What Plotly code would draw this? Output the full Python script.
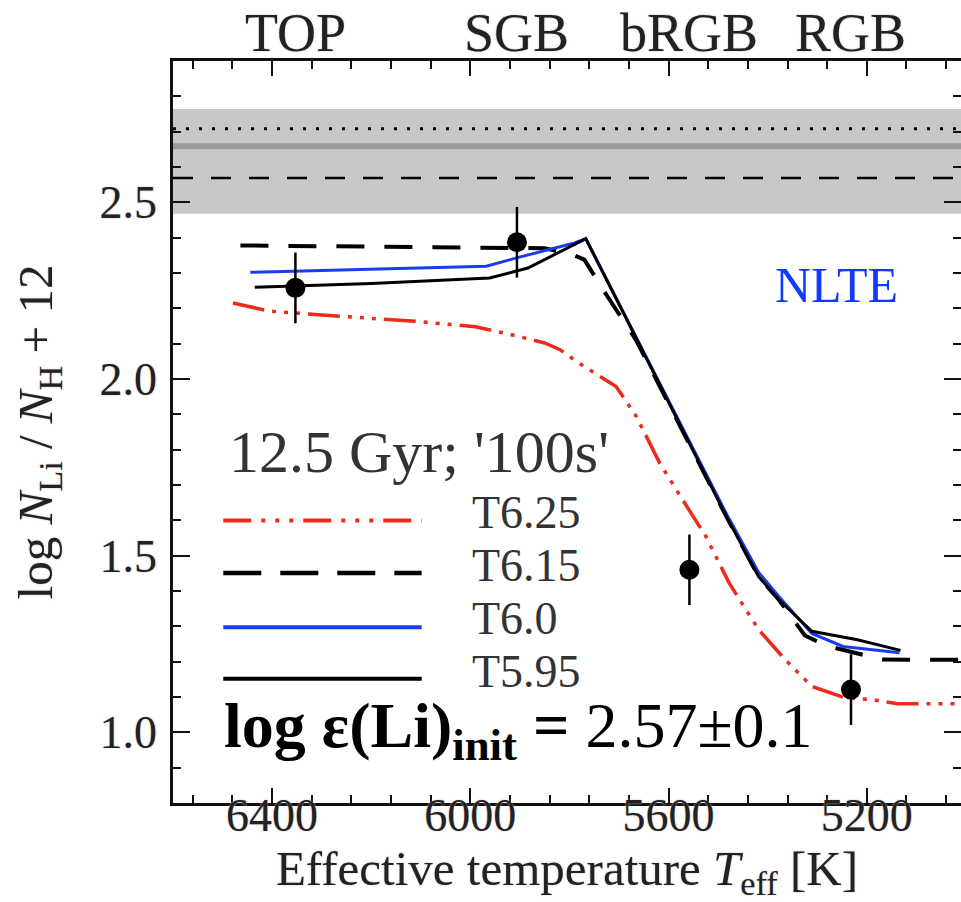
import plotly.graph_objects as go

# ---------------- data ----------------
obs_teff = [6353, 5906, 5558, 5232]
obs_li = [2.258, 2.387, 1.46, 1.121]
obs_err = [0.1, 0.1, 0.1, 0.1]
obs_names = ["TOP", "SGB", "bRGB", "RGB"]

t625_teff = [6479, 6405, 6257, 6109, 5990, 5919, 5850, 5819, 5780, 5706, 5665, 5618,
             5555, 5525, 5478, 5418, 5365, 5311, 5243, 5192, 5138, 5000]
t625_li = [2.215, 2.192, 2.177, 2.163, 2.148, 2.126, 2.102, 2.083, 2.044, 1.979, 1.894, 1.762,
           1.621, 1.555, 1.423, 1.29, 1.206, 1.13, 1.097, 1.093, 1.081, 1.081]

t615_teff = [6464, 5850, 5800, 5770, 5730, 5666, 5482, 5418, 5378, 5325, 5282, 5210, 5169, 5000]
t615_li = [2.378, 2.37, 2.355, 2.338, 2.248, 2.111, 1.607, 1.44, 1.376, 1.274, 1.245, 1.22, 1.206, 1.205]

t600_teff = [6444, 6200, 5968, 5901, 5790, 5767, 5482, 5418, 5378, 5311, 5248, 5134]
t600_li = [2.302, 2.31, 2.319, 2.345, 2.385, 2.397, 1.615, 1.452, 1.385, 1.28, 1.243, 1.225]

t595_teff = [6435, 6200, 5961, 5884, 5767, 5482, 5418, 5378, 5311, 5219, 5132]
t595_li = [2.26, 2.27, 2.286, 2.314, 2.397, 1.607, 1.44, 1.376, 1.286, 1.262, 1.232]

band_lo, band_hi = 2.468, 2.764
line_mid = 2.659
line_dot = 2.708
line_dash = 2.569

FONT = "Liberation Serif, Times New Roman, serif"
HALO = "0px 0px 2px #c9b8b8"

fig = go.Figure()

# model curves
fig.add_trace(go.Scatter(x=t625_teff, y=t625_li, mode="lines",
                         line=dict(color="#ee2a1a", width=3.5,
                                   dash="32px,8px,4px,8px,4px,8px,4px,8px")))
fig.add_trace(go.Scatter(x=t615_teff, y=t615_li, mode="lines",
                         line=dict(color="black", width=4, dash="28px,20px")))
fig.add_trace(go.Scatter(x=t600_teff, y=t600_li, mode="lines",
                         line=dict(color="#1a3cf0", width=3)))
fig.add_trace(go.Scatter(x=t595_teff, y=t595_li, mode="lines",
                         line=dict(color="black", width=3)))

# observations
fig.add_trace(go.Scatter(x=obs_teff, y=obs_li, mode="markers",
                         marker=dict(color="black", size=20),
                         error_y=dict(type="data", array=obs_err, color="black",
                                      thickness=2.5, width=0)))
# invisible trace to carry the right-hand tick axis
fig.add_trace(go.Scatter(x=obs_teff, y=obs_li, mode="markers", yaxis="y2",
                         marker=dict(size=1, opacity=0), hoverinfo="skip"))

# Li plateau band and lines
fig.add_shape(type="rect", xref="paper", x0=0, x1=1, yref="y", y0=band_lo, y1=band_hi,
              fillcolor="#c8c8c8", line=dict(width=0), layer="below")
fig.add_shape(type="line", xref="paper", x0=0, x1=1, yref="y", y0=line_mid, y1=line_mid,
              line=dict(color="#9a9a9a", width=6), layer="below")
fig.add_shape(type="line", xref="paper", x0=0, x1=1, yref="y", y0=line_dot, y1=line_dot,
              line=dict(color="black", width=3, dash="3px,10px"), layer="below")
fig.add_shape(type="line", xref="paper", x0=0, x1=1, yref="y", y0=line_dash, y1=line_dash,
              line=dict(color="black", width=2.5, dash="20px,18px"), layer="below")

# manual legend
leg_names = ["T6.25", "T6.15", "T6.0", "T5.95"]
leg_colors = ["#ee2a1a", "black", "#1a3cf0", "black"]
leg_dash = ["28px,10px,4px,10px,4px,10px,4px,10px", "38px,19px", "solid", "solid"]
leg_width = [4, 4.5, 4, 4]
leg_line_y = [0.3806, 0.3101, 0.2368, 0.1673]
leg_text_y = [0.392, 0.3202, 0.2482, 0.1775]
for nm, c, d, w, ly, ty in zip(leg_names, leg_colors, leg_dash, leg_width, leg_line_y, leg_text_y):
    fig.add_shape(type="line", xref="paper", yref="paper", x0=0.0638, x1=0.3156,
                  y0=ly, y1=ly, line=dict(color=c, width=w, dash=d))
    fig.add_annotation(xref="paper", yref="paper", x=0.377, y=ty, text=nm, showarrow=False,
                       xanchor="left", yanchor="middle",
                       font=dict(family=FONT, size=46, color="#333"))

fig.add_annotation(xref="paper", yref="paper", x=0.0682, y=0.4732,
                   text="12.5 Gyr; '100s'", showarrow=False, xanchor="left", yanchor="middle",
                   font=dict(family=FONT, size=60, color="#333"))
fig.add_annotation(xref="paper", yref="paper", x=0.0627, y=0.0989,
                   text="<b>log ε(Li)<sub>init</sub> =</b> 2.57±0.1", showarrow=False,
                   xanchor="left", yanchor="middle",
                   font=dict(family=FONT, size=64, color="black"))
fig.add_annotation(xref="paper", yref="paper", x=0.8414, y=0.6983, text="NLTE",
                   showarrow=False, xanchor="center", yanchor="middle",
                   font=dict(family=FONT, size=50, color="#1238ff"))

for t, nm in zip(obs_teff, obs_names):
    fig.add_annotation(x=t, xref="x", yref="paper", y=1.038, text=nm, showarrow=False,
                       xanchor="center", yanchor="middle",
                       font=dict(family=FONT, size=54, color="#222", shadow=HALO))

tick_font = dict(family=FONT, size=46, color="#222", shadow=HALO)
title_font = dict(family=FONT, size=49, color="#222", shadow=HALO)
minor_common = dict(ticks="inside", ticklen=8, tickwidth=2, tickcolor="#111", showgrid=False)

fig.update_layout(
    width=961, height=902, showlegend=False,
    margin=dict(l=173, r=0, t=61, b=99),
    plot_bgcolor="white", paper_bgcolor="white",
    font=dict(family=FONT, color="#222"),
    xaxis=dict(range=[6600, 5010], tick0=5200, dtick=400,
               showgrid=False, zeroline=False, showline=True, linewidth=2.5,
               linecolor="#111", mirror="ticks", ticks="inside", ticklen=15,
               tickwidth=2, tickcolor="#111", tickfont=tick_font,
               ticklabelstandoff=-30,
               minor=dict(dtick=80, **minor_common),
               title=dict(text="Effective temperature <i>T</i><sub>eff</sub> [K]",
                          font=title_font, standoff=6)),
    yaxis=dict(range=[0.8, 2.9], tick0=1.0, dtick=0.5, tickformat=".1f",
               showgrid=False, zeroline=False, showline=True, linewidth=2.5,
               linecolor="#111", mirror=False, ticks="inside", ticklen=17,
               tickwidth=2, tickcolor="#111", tickfont=tick_font,
               ticklabelstandoff=4,
               minor=dict(dtick=0.1, **minor_common),
               title=dict(text="log <i>N</i><sub>Li</sub> / <i>N</i><sub>H</sub> + 12",
                          font=title_font, standoff=32)),
    yaxis2=dict(range=[0.8, 2.9], tick0=1.0, dtick=0.5, overlaying="y", side="right",
                showgrid=False, zeroline=False, showline=False, showticklabels=False,
                ticks="inside", ticklen=17, tickwidth=2, tickcolor="#111",
                minor=dict(dtick=0.1, **minor_common)),
)

fig.write_html("out.html")
